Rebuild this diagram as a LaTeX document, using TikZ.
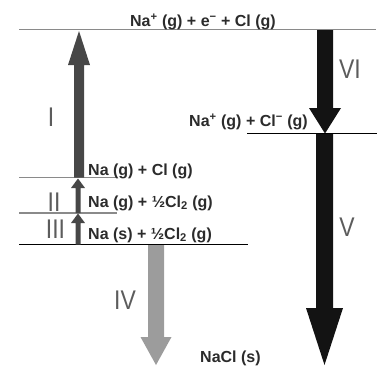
\documentclass[tikz,border=0pt]{standalone}
\usepackage{fontspec}
\setmainfont{Liberation Sans}
\newfontfamily\numfont[FakeStretch=0.85]{Liberation Sans}
\usetikzlibrary{calc}
\definecolor{armdark}{HTML}{474747}
\definecolor{armlight}{HTML}{9C9C9C}
\definecolor{armblack}{HTML}{131313}
\definecolor{lvlgray}{HTML}{8A8A8A}
\definecolor{txt}{HTML}{2B2B2B}
\definecolor{numgray}{HTML}{5C5C5C}
\tikzset{
  x=1pt, y=-1pt,
  species/.style={font=\fontsize{16}{19}\selectfont\bfseries, text=txt, inner sep=0pt, anchor=base west},
  roman/.style={font=\numfont\fontsize{27}{30}\selectfont, text=numgray, inner sep=0pt, anchor=center},
  levelgray/.style={draw=lvlgray, line width=1.2pt},
  levelblack/.style={draw=black, line width=1.3pt},
  levelthin/.style={draw=black, line width=1pt},
}
\begin{document}
\begin{tikzpicture}
\useasboundingbox (0,0) rectangle (380,365);
% level lines
\coordinate (topL) at (19,29.5); \coordinate (topR) at (376,29.5);
\coordinate (gL) at (19,177.5); \coordinate (gR) at (117,177.5);
\coordinate (hL) at (19,213); \coordinate (hR) at (117,213);
\coordinate (sL) at (19,244.5); \coordinate (sR) at (248,244.5);
\coordinate (iL) at (247,133.5); \coordinate (iR) at (377,133.5);
\draw[levelgray] (topL) -- (topR);
\draw[levelgray] (gL) -- (gR);
\draw[levelgray] (hL) -- (hR);
\draw[levelblack] (sL) -- (sR);
\draw[levelthin] (iL) -- (iR);
% arrow I (up)
\fill[armdark] (74,177.5) -- (84,177.5) -- (84,65) -- (90,65) -- (79,31) -- (68,65) -- (74,65) -- cycle;
% arrow II (up)
\fill[armdark] (75.5,213) -- (80.5,213) -- (80.5,188) -- (85,188) -- (78,178.5) -- (71,188) -- (75.5,188) -- cycle;
% arrow III (up)
\fill[armdark] (75.5,244.5) -- (80.5,244.5) -- (80.5,223) -- (85,223) -- (78,213.5) -- (71,223) -- (75.5,223) -- cycle;
% arrow IV (down)
\fill[armlight] (148,245) -- (164,245) -- (164,337) -- (171.5,337) -- (156,365) -- (140.5,337) -- (148,337) -- cycle;
% arrow VI (down)
\fill[armblack] (317,30) -- (333,30) -- (333,108) -- (341,108) -- (325,133.5) -- (309,108) -- (317,108) -- cycle;
% arrow V (down)
\fill[armblack] (316,134) -- (333,134) -- (333,308) -- (343,308) -- (324.5,365) -- (306,308) -- (316,308) -- cycle;
% species labels
\node[species, anchor=base] (top) at (203,26.7) {Na\textsuperscript{+} (g) + e\textsuperscript{−} + Cl (g)};
\node[species] (ion) at (189,126.7) {Na\textsuperscript{+} (g) + Cl\textsuperscript{−} (g)};
\node[species] (gas) at (88,175) {Na (g) + Cl (g)};
\node[species] (half) at (88,207) {Na (g) + ½Cl\textsubscript{2} (g)};
\node[species] (solid) at (88,239) {Na (s) + ½Cl\textsubscript{2} (g)};
\node[species] (nacl) at (200,362.5) {NaCl (s)};
% roman numerals
\node[roman] (rI) at (51,117) {I};
\node[roman] (rII) at (54,202) {II};
\node[roman] (rIII) at (55.5,229) {III};
\node[roman] (rIV) at (125,300) {IV};
\node[roman] (rV) at (347,227) {V};
\node[roman] (rVI) at (350,69.5) {VI};
\end{tikzpicture}
\end{document}
